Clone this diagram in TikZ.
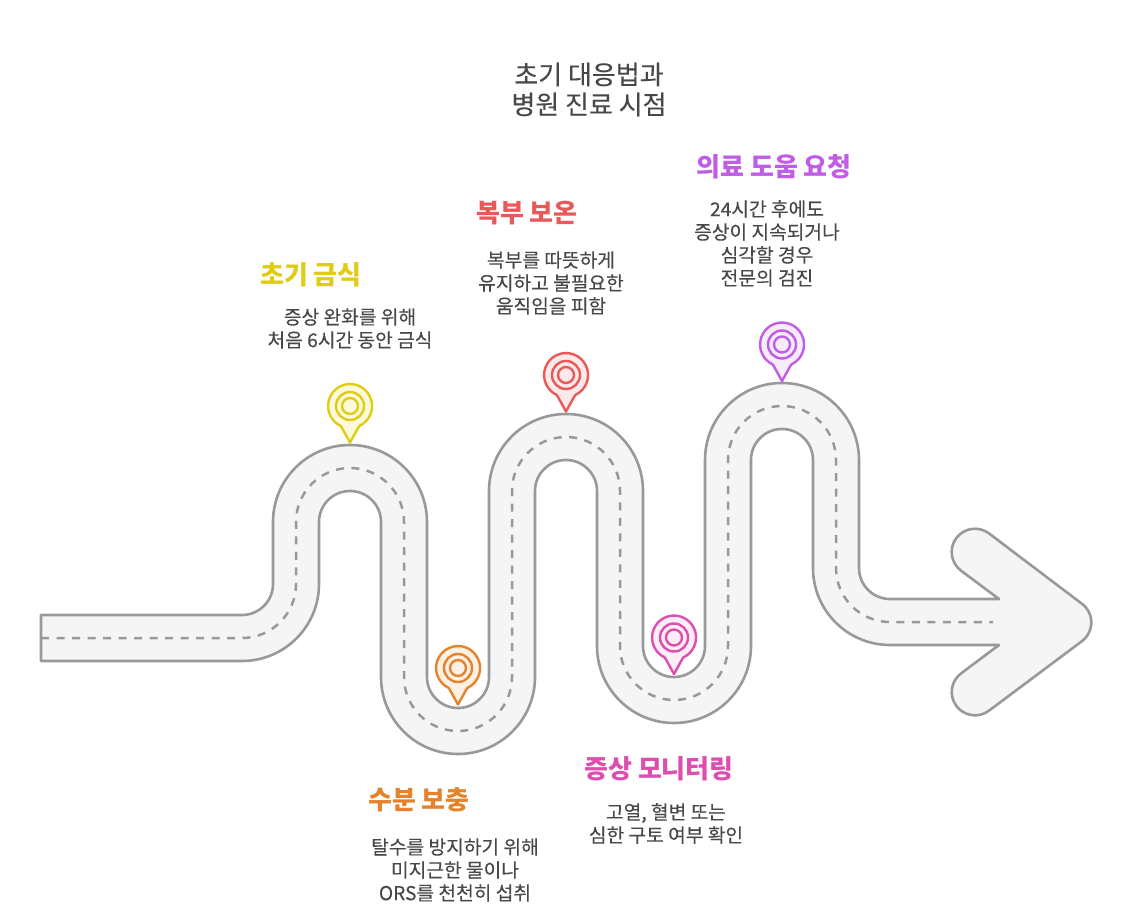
\documentclass[tikz,border=0pt]{standalone}
\usepackage{fontspec}
\setmainfont{Noto Sans CJK KR}
\newfontfamily\plainmedium[FakeBold=0.25]{Noto Sans CJK KR}
\usetikzlibrary{calc}
\definecolor{roadline}{HTML}{999999}
\definecolor{roadfill}{HTML}{F5F5F5}
\definecolor{inktext}{HTML}{484848}
\definecolor{cyellow}{HTML}{E0CB15}
\definecolor{fyellow}{HTML}{FDFADC}
\definecolor{corange}{HTML}{E5832D}
\definecolor{forange}{HTML}{FDF0E5}
\definecolor{cred}{HTML}{E85A5A}
\definecolor{fred}{HTML}{FDE9E9}
\definecolor{cmag}{HTML}{DD4FAE}
\definecolor{fmag}{HTML}{FCEDF7}
\definecolor{cpur}{HTML}{C05CE6}
\definecolor{fpur}{HTML}{F7ECFC}
\tikzset{
  road/.style={draw=roadline,fill=roadfill,line width=2.6pt,line join=round},
  lane/.style={draw=roadline,line width=2.5pt,dash pattern=on 8pt off 7.5pt},
  pinring/.style={line width=2.4pt,line join=round},
  titletext/.style={text=inktext,align=center,font=\plainmedium\fontsize{26}{30}\selectfont},
  headtext/.style={align=center,font=\fontsize{26}{30}\selectfont\bfseries},
  bodytext/.style={text=inktext,align=center,font=\plainmedium\fontsize{19.2}{23}\selectfont},
}
\newcommand{\pinmark}[4]{%
  \begin{scope}[shift={(#1,#2)}]
    \draw[pinring,draw=#3,fill=#4] (9.5,-19.9) arc[start angle=-64.6,end angle=244.6,radius=22]
      .. controls (-8.5,-21) and (-7.5,-23) .. (0,-36.5)
      .. controls (7.5,-23) and (8.5,-21) .. cycle;
    \draw[pinring,draw=#3] (0,0) circle[radius=14];
    \draw[pinring,draw=#3] (0,0) circle[radius=8];
  \end{scope}}
\begin{document}
\begin{tikzpicture}[x=1pt,y=1pt]
\useasboundingbox (0,0) rectangle (1146,914);
% road outline with arrowhead
\path[road]
  (41,299) -- (242,299) arc[start angle=-90,end angle=0,radius=31]
  -- (273,392) arc[start angle=180,end angle=0,radius=77]
  -- (427,237) arc[start angle=180,end angle=360,radius=31]
  -- (489,423) arc[start angle=180,end angle=0,radius=77]
  -- (643,268) arc[start angle=180,end angle=360,radius=31]
  -- (705,454) arc[start angle=180,end angle=0,radius=77]
  -- (859,346) arc[start angle=180,end angle=270,radius=31]
  -- (999,315) -- (960.9,343.4)
  arc[start angle=232.85,end angle=52.85,radius=23.3]
  -- (1082.1,310.1) arc[start angle=52.85,end angle=-52.85,radius=23.3]
  -- (989.1,203.4) arc[start angle=-52.85,end angle=-232.85,radius=23.3]
  -- (999,269) -- (890,269) arc[start angle=270,end angle=180,radius=77]
  -- (813,454) arc[start angle=0,end angle=180,radius=31]
  -- (751,268) arc[start angle=360,end angle=180,radius=77]
  -- (597,423) arc[start angle=0,end angle=180,radius=31]
  -- (535,237) arc[start angle=360,end angle=180,radius=77]
  -- (381,392) arc[start angle=0,end angle=180,radius=31]
  -- (319,330) arc[start angle=0,end angle=-90,radius=77]
  -- (41,253) -- cycle;
% centre lane
\path[lane]
  (41,276) -- (242,276) arc[start angle=-90,end angle=0,radius=54]
  -- (296,392) arc[start angle=180,end angle=0,radius=54]
  -- (404,237) arc[start angle=180,end angle=360,radius=54]
  -- (512,423) arc[start angle=180,end angle=0,radius=54]
  -- (620,268) arc[start angle=180,end angle=360,radius=54]
  -- (728,454) arc[start angle=180,end angle=0,radius=54]
  -- (836,346) arc[start angle=180,end angle=270,radius=54]
  -- (993,292);
% pins
\pinmark{350}{508}{cyellow}{fyellow}
\pinmark{458}{246}{corange}{forange}
\pinmark{566}{539}{cred}{fred}
\pinmark{674}{276.5}{cmag}{fmag}
\pinmark{782}{569.5}{cpur}{fpur}
% texts
\node[titletext] (title) at (589,824.5) {초기 대응법과\\병원 진료 시점};
\node[headtext,text=cyellow] (h1) at (311,639) {초기 금식};
\node[bodytext] (b1) at (350,585.5) {증상 완화를 위해\\처음 6시간 동안 금식};
\node[headtext,text=cred] (h3) at (527,701) {복부 보온};
\node[bodytext] (b3) at (551,631) {복부를 따뜻하게\\유지하고 불필요한\\움직임을 피함};
\node[headtext,text=cpur] (h5) at (774,747) {의료 도움 요청};
\node[bodytext] (b5) at (767,670.5) {24시간 후에도\\증상이 지속되거나\\심각할 경우\\전문의 검진};
\node[headtext,text=corange] (h2) at (419,114) {수분 보충};
\node[bodytext] (b2) at (455,44) {탈수를 방지하기 위해\\미지근한 물이나\\ORS를 천천히 섭취};
\node[headtext,text=cmag] (h4) at (659,145) {증상 모니터링};
\node[bodytext] (b4) at (666,90.5) {고열, 혈변 또는\\심한 구토 여부 확인};
\end{tikzpicture}
\end{document}
